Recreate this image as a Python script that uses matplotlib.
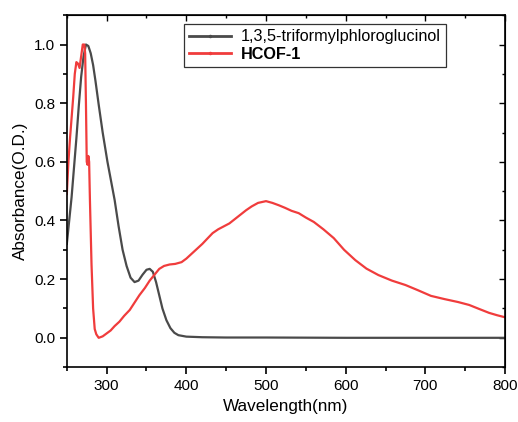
import numpy as np
import matplotlib.pyplot as plt
from matplotlib.ticker import MultipleLocator
from matplotlib.lines import Line2D

plt.rcParams['font.family'] = ['Liberation Sans', 'DejaVu Sans']

# 1,3,5-triformylphloroglucinol
tp_wl = [250, 253, 256, 259, 262, 265, 268, 271, 274, 277, 280, 283, 286, 290, 295, 301,
         310, 315, 320, 325, 330, 335, 340, 345, 350, 354, 358, 362, 366, 370, 375,
         380, 385, 390, 400, 420, 450, 500, 600, 700, 800]
tp_abs = [0.32, 0.40, 0.48, 0.58, 0.68, 0.79, 0.89, 0.96, 1.0, 0.995, 0.97, 0.93, 0.875,
          0.795, 0.70, 0.60, 0.47, 0.38, 0.30, 0.245, 0.205, 0.19, 0.195, 0.215, 0.232,
          0.235, 0.225, 0.19, 0.145, 0.10, 0.06, 0.033, 0.017, 0.009, 0.004, 0.002,
          0.001, 0.001, 0.0, 0.0, 0.0]

# HCOF-1
cof_wl = [250, 252, 254, 256, 258, 260, 262, 264, 266, 268, 270, 272, 273, 274, 275,
          276, 277, 278, 279, 281, 283, 285, 287, 290, 295, 300, 305, 310, 316, 322,
          329, 335, 341, 348, 354, 360, 366, 372, 379, 386, 394, 400, 406, 412, 420,
          427, 433, 440, 447, 454, 461, 468, 475, 482, 490, 500, 508, 516, 524, 532,
          541, 550, 560, 572, 585, 598, 612, 626, 641, 658, 675, 690, 707, 724, 741,
          755, 766, 780, 790, 800]
cof_abs = [0.49, 0.60, 0.68, 0.75, 0.82, 0.90, 0.94, 0.935, 0.92, 0.96, 1.0, 1.0, 0.97,
           0.80, 0.60, 0.59, 0.62, 0.60, 0.47, 0.25, 0.10, 0.03, 0.012, 0.0, 0.005,
           0.015, 0.025, 0.04, 0.055, 0.075, 0.095, 0.12, 0.145, 0.17, 0.195, 0.215,
           0.235, 0.245, 0.25, 0.252, 0.258, 0.27, 0.285, 0.30, 0.32, 0.34, 0.357, 0.37,
           0.38, 0.39, 0.405, 0.42, 0.435, 0.448, 0.46, 0.466, 0.46, 0.452, 0.443,
           0.433, 0.425, 0.41, 0.395, 0.37, 0.34, 0.30, 0.265, 0.236, 0.214, 0.195,
           0.18, 0.163, 0.143, 0.132, 0.122, 0.112, 0.10, 0.085, 0.077, 0.07]

black = '#4a4a4a'
red = '#f03c3c'

fig = plt.figure(figsize=(5.18, 4.22), dpi=100)
ax = fig.add_axes([0.129, 0.130, 0.846, 0.834])

ax.plot(tp_wl, tp_abs, color=black, linewidth=1.6)
ax.plot(cof_wl, cof_abs, color=red, linewidth=1.6)

ax.set_xlim(250, 800)
ax.set_ylim(-0.1, 1.1)
ax.xaxis.set_major_locator(MultipleLocator(100))
ax.xaxis.set_minor_locator(MultipleLocator(50))
ax.yaxis.set_major_locator(MultipleLocator(0.2))
ax.yaxis.set_minor_locator(MultipleLocator(0.1))
ax.yaxis.set_major_formatter(plt.FormatStrFormatter('%.1f'))

for s in ax.spines.values():
    s.set_linewidth(1.2)
ax.tick_params(which='major', direction='out', length=5, width=1.2, labelsize=11)
ax.tick_params(which='minor', direction='out', length=3, width=1.2)

top = ax.secondary_xaxis('top')
top.xaxis.set_major_locator(MultipleLocator(100))
top.xaxis.set_minor_locator(MultipleLocator(50))
top.tick_params(which='both', direction='in', labeltop=False, width=1.0)
top.tick_params(which='major', length=4)
top.tick_params(which='minor', length=2.5)
right = ax.secondary_yaxis('right')
right.yaxis.set_major_locator(MultipleLocator(0.2))
right.yaxis.set_minor_locator(MultipleLocator(0.1))
right.tick_params(which='both', direction='in', labelright=False, width=1.0)
right.tick_params(which='major', length=4)
right.tick_params(which='minor', length=2.5)

ax.set_xlabel('Wavelength(nm)', fontsize=12.3)
ax.set_ylabel('Absorbance(O.D.)', fontsize=12.3)

handles = [Line2D([], [], color=black, linewidth=2, marker='.', markersize=3),
           Line2D([], [], color=red, linewidth=2, marker='.', markersize=3)]
leg = ax.legend(handles, ['1,3,5-triformylphloroglucinol', 'HCOF-1'],
                loc='upper left', bbox_to_anchor=(0.267, 0.974), fontsize=11.7,
                fancybox=False, framealpha=1, edgecolor='#333333',
                handlelength=2.6, handletextpad=0.6, borderpad=0.3,
                labelspacing=0.15, borderaxespad=0)
leg.get_frame().set_linewidth(0.9)
leg.get_texts()[1].set_fontweight('bold')

fig.savefig('out.png', dpi=100)
